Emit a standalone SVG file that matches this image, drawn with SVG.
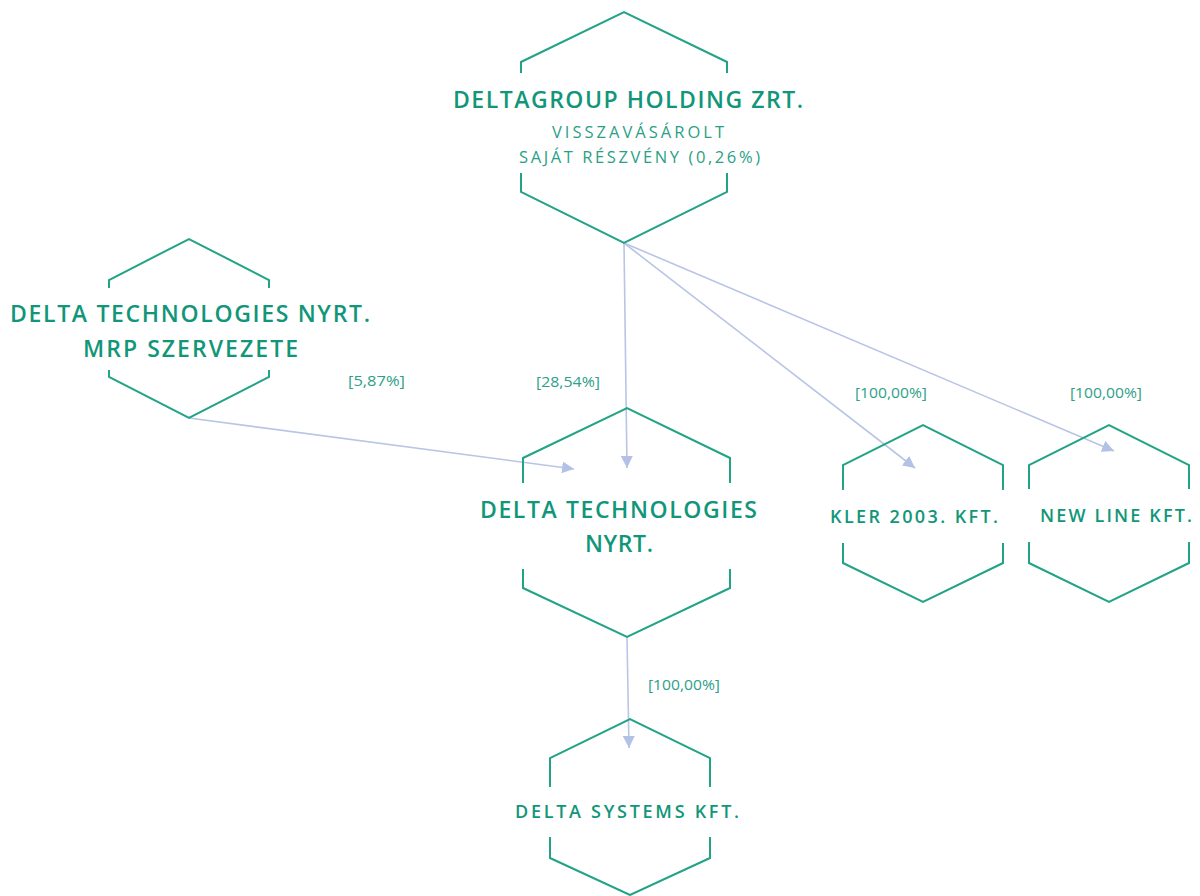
<svg xmlns="http://www.w3.org/2000/svg" width="1200" height="896" viewBox="0 0 1200 896">
<defs>
<style>
.hex{fill:none;stroke:#23a386;stroke-width:2;stroke-linejoin:miter}
.t{font-family:"Open Sans","Liberation Sans",sans-serif;font-weight:600;fill:#11967a}
.s{font-family:"Open Sans","Liberation Sans",sans-serif;font-weight:400;fill:#2b9f86}
.lbl{font-family:"Open Sans","Liberation Sans",sans-serif;font-weight:400;fill:#2ea088;font-size:15px}
.edge{fill:none;stroke:#b9c5e6;stroke-width:1.6}
</style>
<marker id="arr" viewBox="0 0 12 12" refX="12" refY="6" markerWidth="12" markerHeight="12" markerUnits="userSpaceOnUse" orient="auto">
<path d="M0,0 L12,6 L0,12 Z" fill="#b4c1e6"/>
</marker>
</defs>
<rect width="1200" height="896" fill="#ffffff"/>
<g id="connectors">
<line class="edge" x1="624" y1="243" x2="627" y2="468" marker-end="url(#arr)"/>
<line class="edge" x1="189" y1="418" x2="574" y2="469" marker-end="url(#arr)"/>
<line class="edge" x1="624" y1="243" x2="915" y2="468" marker-end="url(#arr)"/>
<line class="edge" x1="624" y1="243" x2="1114" y2="451" marker-end="url(#arr)"/>
<line class="edge" x1="627" y1="637" x2="629" y2="748" marker-end="url(#arr)"/>
<text class="lbl" x="348" y="386" textLength="57" lengthAdjust="spacingAndGlyphs">[5,87%]</text>
<text class="lbl" x="536" y="387" textLength="64" lengthAdjust="spacingAndGlyphs">[28,54%]</text>
<text class="lbl" x="855" y="398" textLength="72" lengthAdjust="spacingAndGlyphs">[100,00%]</text>
<text class="lbl" x="1070" y="398" textLength="72" lengthAdjust="spacingAndGlyphs">[100,00%]</text>
<text class="lbl" x="648" y="690" textLength="72" lengthAdjust="spacingAndGlyphs">[100,00%]</text>
</g>
<g id="deltagroup">
<path class="hex" d="M521,73 L521,62 L624,12 L727,62 L727,73"/>
<path class="hex" d="M521,173 L521,192 L624,243 L727,192 L727,173"/>
<text class="t" x="453" y="108" font-size="23" textLength="350" lengthAdjust="spacing">DELTAGROUP HOLDING ZRT.</text>
<text class="s" x="552" y="138" font-size="16.5" textLength="172" lengthAdjust="spacing">VISSZAVÁSÁROLT</text>
<text class="s" x="519" y="163" font-size="16.5" textLength="241" lengthAdjust="spacing">SAJÁT RÉSZVÉNY (0,26%)</text>
</g>
<g id="mrp">
<path class="hex" d="M109,288 L109,280 L189,239 L269,280 L269,288"/>
<path class="hex" d="M109,370 L109,377 L189,418 L269,377 L269,370"/>
<text class="t" x="10" y="322" font-size="23" textLength="360" lengthAdjust="spacing">DELTA TECHNOLOGIES NYRT.</text>
<text class="t" x="83" y="357" font-size="23" textLength="215" lengthAdjust="spacing">MRP SZERVEZETE</text>
</g>
<g id="deltatech">
<path class="hex" d="M523,483 L523,458 L627,408 L730,458 L730,483"/>
<path class="hex" d="M523,569 L523,588 L627,637 L730,588 L730,569"/>
<text class="t" x="480" y="518" font-size="23" textLength="277" lengthAdjust="spacing">DELTA TECHNOLOGIES</text>
<text class="t" x="585" y="552" font-size="23" textLength="68" lengthAdjust="spacing">NYRT.</text>
</g>
<g id="kler">
<path class="hex" d="M843,490 L843,465 L923,425 L1003,465 L1003,490"/>
<path class="hex" d="M843,543 L843,563 L923,602 L1003,563 L1003,543"/>
<text class="t" x="830" y="523" font-size="18" textLength="168" lengthAdjust="spacing">KLER 2003. KFT.</text>
</g>
<g id="newline">
<path class="hex" d="M1029,489 L1029,465 L1109,425 L1189,465 L1189,489"/>
<path class="hex" d="M1029,542 L1029,563 L1109,602 L1189,563 L1189,542"/>
<text class="t" x="1040" y="522" font-size="18" textLength="152" lengthAdjust="spacing">NEW LINE KFT.</text>
</g>
<g id="deltasystems">
<path class="hex" d="M550,787 L550,758 L630,719 L710,758 L710,787"/>
<path class="hex" d="M550,837 L550,858 L630,895 L710,858 L710,837"/>
<text class="t" x="515" y="818" font-size="18" textLength="224" lengthAdjust="spacing">DELTA SYSTEMS KFT.</text>
</g>
</svg>
